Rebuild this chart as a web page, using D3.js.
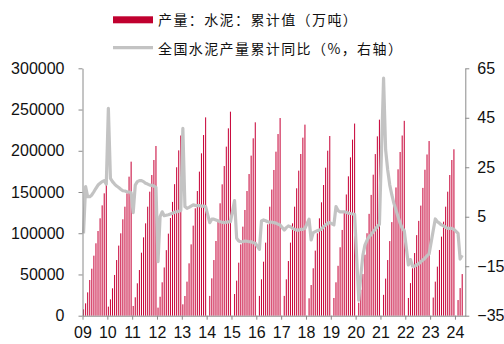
<!DOCTYPE html>
<html><head><meta charset="utf-8">
<script src="https://cdn.jsdelivr.net/npm/d3@7"></script>
<style>
html,body{margin:0;padding:0;background:#fff;}
svg{display:block;}
</style></head>
<body><svg id="c" width="504" height="344"></svg>
<script>
// Year labels on the x axis
const yearLabels = ["09","10","11","12","13","14","15","16","17","18","19","20","21","22","23","24"];
// 产量:水泥:累计值 (万吨), Jan..Dec per year (null = not published)
const prod09 = [7700,15000,28300,43300,57000,72800,87800,102700,118100,133800,148400,159000];
const prod10 = [11000,19800,33200,49400,67500,85000,99900,116900,132200,148400,168600,186800];
const prod11 = [11800,22300,39300,55400,76400,95000,112000,132200,150400,170600,188800,205800];
const prod12 = [9800,23000,40500,58500,79500,99500,118500,138000,159500,180000,200500,218500];
const prod13 = [13800,23900,41300,63500,86500,109200,130200,151200,174700,196900,219100,240500];
const prod14 = [null,24000,45300,67500,90600,114000,136300,159300,181500,205000,227200,247400];
const prod15 = [null,26300,42500,64300,86500,108000,128200,151200,171800,194100,215100,234500];
const prod16 = [null,24000,44100,65500,88600,110800,132200,153000,176700,198900,220300,239700];
const prod17 = [null,24000,44100,66300,88600,112000,132200,154500,175900,196100,215900,231700];
const prod18 = [null,21100,37200,57500,78900,99900,118100,137500,158500,179500,200100,217900];
const prod19 = [null,21500,40500,60500,83000,104000,125500,147000,169000,192000,213500,233000];
const prod20 = [null,15700,31500,50500,74000,100000,123500,146500,171000,196000,217500,237700];
const prod21 = [null,25300,45000,67500,90500,113500,134000,155500,177500,198500,218500,236300];
const prod22 = [null,21500,39500,57500,76000,97700,115000,133500,155000,177000,195500,211800];
const prod23 = [null,22000,41300,59500,79700,95900,114000,132200,150400,170600,188800,201800];
const prod24 = [null,19000,33500,50500,null];
// 全国水泥产量累计同比 (%)
const growth09 = [-1.7,17.2,13.1,13.1,13.8,15.1,16.5,17.8,18.5,19.2,19.6,18.2];
const growth10 = [48.8,20.5,19.2,18.2,17.4,16.8,16.1,15.5,15.4,15.1,15.0,14.7];
const growth11 = [6.7,17.8,19.2,19.6,19.6,19.2,18.5,18.2,17.8,17.7,17.4,16.9];
const growth12 = [-13.2,5.0,7.0,5.4,5.6,5.8,6.1,6.4,6.8,7.0,7.2,7.5];
const growth13 = [40.7,9.1,8.4,8.8,9.3,9.8,9.6,9.5,9.5,9.3,9.3,9.1];
const growth14 = [null,2.6,4.0,4.0,3.7,3.4,3.0,2.8,2.6,2.8,2.9,3.0];
const growth15 = [null,11.5,-3.7,-4.8,-5.1,-5.1,-4.8,-4.9,-5.1,-5.1,-5.5,-5.7];
const growth16 = [null,-8.2,3.3,3.7,3.4,3.0,2.8,2.8,2.6,2.4,2.0,1.7];
const growth17 = [null,-0.4,0.6,1.3,1.0,0.3,-0.1,-0.4,-0.4,-0.1,-0.1,0.3];
const growth18 = [null,4.0,-4.4,-1.4,-1.0,-0.6,-0.4,0.0,1.0,1.7,2.4,2.6];
const growth19 = [null,1.7,9.1,7.5,7.0,7.0,7.0,6.8,6.4,6.3,6.1,6.0];
const growth20 = [null,-28.7,-19.0,-10.6,-6.5,-4.5,-3.1,-2.2,-1.1,0.0,1.0,2.0];
const growth21 = [null,61.0,32.0,23.9,17.8,13.8,10.4,7.7,5.0,2.4,0.3,-0.6];
const growth22 = [null,-14.5,-12.3,-15.0,-15.0,-14.5,-14.0,-13.2,-12.5,-11.8,-10.8,-10.0];
const growth23 = [null,-0.6,4.1,3.0,2.4,1.7,1.3,0.7,0.3,0.3,0.3,-0.1];
const growth24 = [null,-1.7,-12.1,-10.6,null];
const leftTicks = [0,50000,100000,150000,200000,250000,300000];
const rightTicks = [-35,-15,5,25,45,65];

const prod = [].concat(prod09,prod10,prod11,prod12,prod13,prod14,prod15,prod16,prod17,prod18,prod19,prod20,prod21,prod22,prod23,prod24);
const growth = [].concat(growth09,growth10,growth11,growth12,growth13,growth14,growth15,growth16,growth17,growth18,growth19,growth20,growth21,growth22,growth23,growth24);
const N = prod.length;

const L = 82.5, R = 465.3, T = 68.3, B = 315.7;
const svg = d3.select("#c");
const font = "'Liberation Sans', Arial, sans-serif";
const cjk = "'Noto Sans CJK SC', sans-serif";
const axisColor = "#8a8a8a";

const xBand = d3.scaleBand().domain(d3.range(N)).range([L, R]).paddingInner(0.5).paddingOuter(0.25);
const xLin = d3.scaleLinear().domain([0, N]).range([L, R]);
const yL = d3.scaleLinear().domain([0, 300000]).range([B, T]);
const yR = d3.scaleLinear().domain([-35, 65]).range([B, T]);

// bars
svg.append("g").selectAll("rect")
  .data(prod.map((v, i) => ({v, i})).filter(d => d.v != null))
  .join("rect")
  .attr("x", d => xBand(d.i))
  .attr("width", xBand.bandwidth())
  .attr("y", d => yL(d.v))
  .attr("height", d => yL(0) - yL(d.v))
  .attr("fill", "#c8063a");

// line
const pts = growth.map((v, i) => ({v, i})).filter(d => d.v != null);
svg.append("path")
  .datum(pts)
  .attr("fill", "none")
  .attr("stroke", "#c3c3c3")
  .attr("stroke-width", 3.2)
  .attr("stroke-linejoin", "round")
  .attr("d", d3.line().x(d => xBand(d.i) + xBand.bandwidth() / 2).y(d => yR(d.v)));

function styleAxis(g) {
  g.selectAll("path, line").attr("stroke", axisColor).attr("stroke-width", 1);
  g.selectAll("text").attr("fill", "#111").style("font-family", font).style("font-size", "16px");
}

svg.append("g").attr("transform", `translate(${L},0)`)
  .call(d3.axisLeft(yL).tickValues(leftTicks).tickFormat(d3.format("d")).tickSize(4).tickSizeOuter(0).tickPadding(14))
  .call(styleAxis);

svg.append("g").attr("transform", `translate(${R},0)`)
  .call(d3.axisRight(yR).tickValues(rightTicks).tickFormat(d3.format("d")).tickSize(4).tickSizeOuter(0).tickPadding(8))
  .call(styleAxis);

svg.append("g").attr("transform", `translate(0,${B})`)
  .call(d3.axisBottom(xLin).tickValues(yearLabels.map((y, k) => k * 12)).tickFormat((d, k) => yearLabels[k]).tickSize(4).tickSizeOuter(0).tickPadding(7))
  .call(styleAxis);

// legend
const lg = svg.append("g");
lg.append("rect").attr("x", 113).attr("y", 16.3).attr("width", 40).attr("height", 7).attr("fill", "#c0002f");
lg.append("text").attr("x", 158).attr("y", 20).attr("dy", "0.36em")
  .style("font-family", cjk).style("font-size", "14px").style("letter-spacing", "1.4px").attr("fill", "#111")
  .text("产量：水泥：累计值（万吨）");
lg.append("line").attr("x1", 113).attr("x2", 153).attr("y1", 47.7).attr("y2", 47.7)
  .attr("stroke", "#c3c3c3").attr("stroke-width", 3.2);
lg.append("text").attr("x", 158).attr("y", 48.5).attr("dy", "0.36em")
  .style("font-family", cjk).style("font-size", "14px").style("letter-spacing", "1.4px").attr("fill", "#111")
  .text("全国水泥产量累计同比（%，右轴）");
</script></body></html>
